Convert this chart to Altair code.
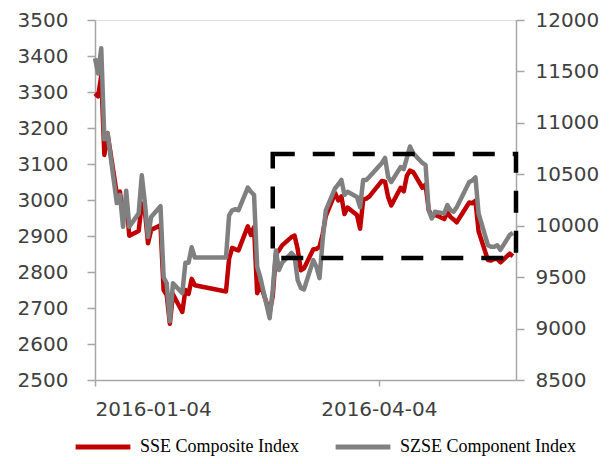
import altair as alt
import pandas as pd

dates = [
    "2016-01-04", "2016-01-05", "2016-01-06", "2016-01-07", "2016-01-08",
    "2016-01-11", "2016-01-12", "2016-01-13", "2016-01-14", "2016-01-15",
    "2016-01-18", "2016-01-19", "2016-01-20", "2016-01-21", "2016-01-22",
    "2016-01-25", "2016-01-26", "2016-01-27", "2016-01-28", "2016-01-29",
    "2016-02-01", "2016-02-02", "2016-02-03", "2016-02-04", "2016-02-05",
    "2016-02-15", "2016-02-16", "2016-02-17", "2016-02-18", "2016-02-19",
    "2016-02-22", "2016-02-23", "2016-02-24", "2016-02-25", "2016-02-26",
    "2016-02-29", "2016-03-01", "2016-03-02", "2016-03-03", "2016-03-04",
    "2016-03-07", "2016-03-08", "2016-03-09", "2016-03-10", "2016-03-11",
    "2016-03-14", "2016-03-15", "2016-03-16", "2016-03-17", "2016-03-18",
    "2016-03-21", "2016-03-22", "2016-03-23", "2016-03-24", "2016-03-25",
    "2016-03-28", "2016-03-29", "2016-03-30", "2016-03-31", "2016-04-01",
    "2016-04-05", "2016-04-06", "2016-04-07", "2016-04-08", "2016-04-11",
    "2016-04-12", "2016-04-13", "2016-04-14", "2016-04-15", "2016-04-18",
    "2016-04-19", "2016-04-20", "2016-04-21", "2016-04-22", "2016-04-25",
    "2016-04-26", "2016-04-27", "2016-04-28", "2016-04-29", "2016-05-03",
    "2016-05-04", "2016-05-05", "2016-05-06", "2016-05-09", "2016-05-10",
    "2016-05-11", "2016-05-12", "2016-05-13", "2016-05-16", "2016-05-17",
]

sse = [
    3296, 3288, 3345, 3125, 3186,
    3017, 3023, 2950, 3000, 2901,
    2914, 2990, 2970, 2880, 2917,
    2930, 2750, 2736, 2656, 2738,
    2689, 2750, 2739, 2781, 2763,
    2746, 2837, 2867, 2863, 2860,
    2927, 2903, 2925, 2741, 2767,
    2688, 2733, 2850, 2860, 2874,
    2897, 2901, 2863, 2805, 2810,
    2863, 2864, 2870, 2905, 2955,
    3019, 2999, 3010, 2961, 2979,
    2958, 2920, 3001, 3004, 3010,
    3053, 3051, 3008, 2985, 3034,
    3024, 3067, 3082, 3078, 3034,
    3043, 2973, 2954, 2959, 2947,
    2965, 2953, 2946, 2938, 2993,
    2991, 2998, 2913, 2833, 2832,
    2837, 2836, 2827, 2851, 2844,
]

szse = [
    11628, 11480, 11725, 10840, 10900,
    10220, 10300, 9990, 10340, 9990,
    10120, 10490, 10220, 9890, 10085,
    10190, 9500, 9440, 9070, 9440,
    9345, 9640, 9640, 9790, 9690,
    9690, 10100, 10150, 10160, 10150,
    10370, 10330, 10300, 9600, 9500,
    9100, 9375, 9760, 9570, 9640,
    9735, 9700, 9470, 9395, 9380,
    9665, 9600, 9490, 9860, 10150,
    10365, 10400, 10445, 10300, 10330,
    10280, 10180, 10445, 10445, 10475,
    10610, 10660, 10475, 10425, 10570,
    10550, 10660, 10770, 10705, 10610,
    10590, 10150, 10070, 10135, 10120,
    10200, 10150, 10135, 10180, 10425,
    10440, 10470, 10120, 9810, 9795,
    9795, 9810, 9765, 9910, 9930,
]

series_names = ["SSE Composite Index", "SZSE Component Index"]
series_colors = ["#C00000", "#808080"]

box_dates = ["2016-03-01", "2016-05-18"]
box_levels = [2839, 3128]

x_domain = ["2016-01-04", "2016-05-18"]
x_ticks = ["2016-01-04", "2016-04-04"]
left_ticks = list(range(2500, 3501, 100))
right_ticks = list(range(8500, 12001, 500))

df = pd.DataFrame({"date": dates, "sse": sse, "szse": szse})
box_df = pd.DataFrame({"x1": [box_dates[0]], "x2": [box_dates[1]],
                       "y1": [box_levels[0]], "y2": [box_levels[1]]})

FONT = "DejaVu Sans"
AX = "#A6A6A6"
LBL = "#404040"


def tdate(s):
    y, m, d = [int(p) for p in s.split("-")]
    return alt.DateTime(year=y, month=m, date=d)


x_scale = alt.Scale(domain=[tdate(d) for d in x_domain])
x_axis = alt.Axis(values=[tdate(d) for d in x_ticks], format="%Y-%m-%d",
                  title=None, grid=False,
                  domainColor=AX, domainWidth=1.5, tickColor=AX, tickWidth=1.5,
                  tickSize=6, labelPadding=13, labelFont=FONT, labelFontSize=20,
                  labelColor=LBL, labelAngle=0)

color_scale = alt.Scale(domain=series_names, range=series_colors)
legend = alt.Legend(title=None, orient="none", legendX=-22, legendY=397,
                    direction="horizontal", symbolType="stroke",
                    symbolSize=3000, symbolStrokeWidth=5,
                    labelFont="Liberation Serif", labelFontSize=18,
                    labelColor="#000000", columnPadding=25, labelOffset=7,
                    labelLimit=400, symbolOffset=0)

base = alt.Chart(df)

sse_line = base.mark_line(strokeWidth=4.5, strokeJoin="round").transform_calculate(
    series=f"'{series_names[0]}'"
).encode(
    x=alt.X("date:T", scale=x_scale, axis=x_axis),
    y=alt.Y("sse:Q", scale=alt.Scale(domain=[2500, 3500], nice=False, zero=False),
            axis=alt.Axis(orient="left", values=left_ticks, format="d", title=None,
                          grid=False, domainColor=AX, domainWidth=1.5, tickColor=AX,
                          tickWidth=1.5, tickSize=8, labelPadding=19,
                          labelFont=FONT, labelFontSize=20, labelColor=LBL)),
    color=alt.Color("series:N", scale=color_scale, legend=legend),
)

szse_line = base.mark_line(strokeWidth=4.5, strokeJoin="round").transform_calculate(
    series=f"'{series_names[1]}'"
).encode(
    x=alt.X("date:T", scale=x_scale),
    y=alt.Y("szse:Q", scale=alt.Scale(domain=[8500, 12000], nice=False, zero=False),
            axis=alt.Axis(orient="right", values=right_ticks, format="d", title=None,
                          grid=False, domainColor=AX, domainWidth=1.5, tickColor=AX,
                          tickWidth=1.5, tickSize=8, labelPadding=11,
                          labelFont=FONT, labelFontSize=20, labelColor=LBL)),
    color=alt.Color("series:N", scale=color_scale, legend=legend),
)

box = alt.Chart(box_df).mark_rect(fill="transparent", stroke="#000000",
                                  strokeWidth=4.5, strokeDash=[22, 18]).encode(
    x=alt.X("x1:T", scale=x_scale),
    x2="x2:T",
    y=alt.Y("y1:Q", scale=alt.Scale(domain=[2500, 3500], nice=False, zero=False),
            axis=None),
    y2="y2:Q",
)

chart = alt.layer(sse_line, szse_line, box).resolve_scale(
    y="independent"
).properties(
    width=421, height=360,
    autosize=alt.AutoSizeParams(type="none"),
    padding={"left": 87, "top": 12, "right": 86, "bottom": 78},
).configure_view(stroke=None).configure(background="white")

chart.save("out.html", embed_options={"renderer": "svg", "actions": False})
